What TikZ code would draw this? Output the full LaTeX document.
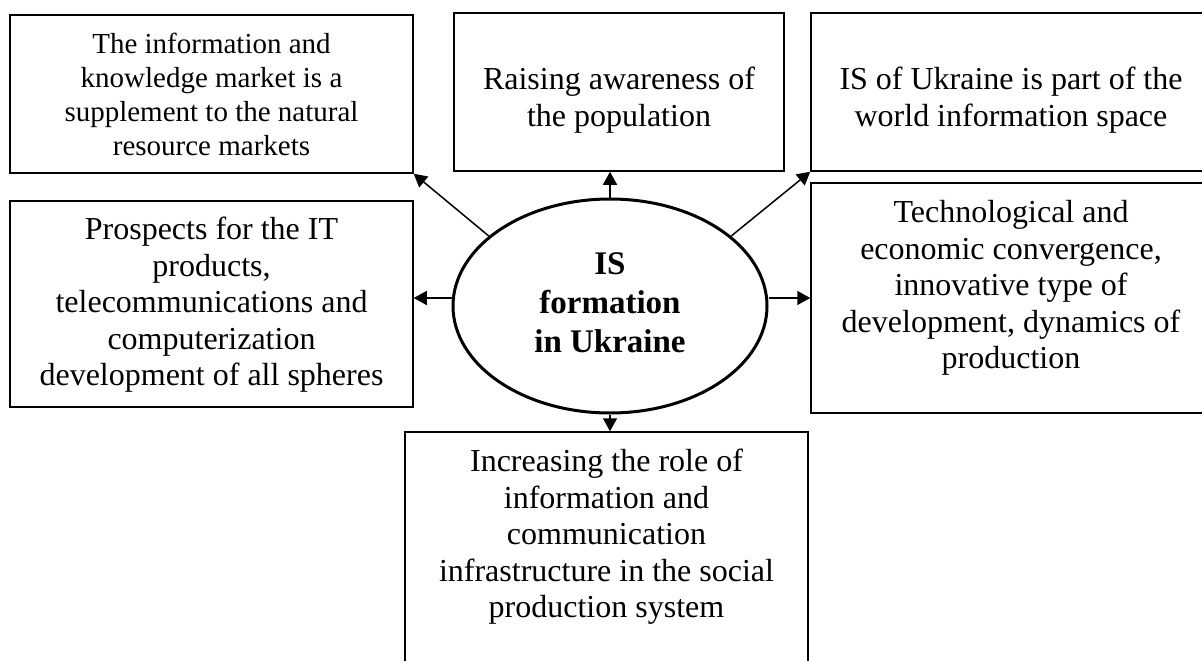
\documentclass[tikz,border=0pt]{standalone}
\usepackage{fontspec}
\setmainfont{Liberation Serif}
\usetikzlibrary{arrows.meta,shapes.geometric}

\begin{document}
\begin{tikzpicture}[x=1pt,y=-1pt,
  frame/.style={draw=black,line width=1.5pt,rectangle,inner sep=0pt},
  caption/.style={align=center,inner sep=0pt,font=\fontsize{32}{36.5}\selectfont},
  smallcaption/.style={align=center,inner sep=0pt,font=\fontsize{29}{34}\selectfont},
  hub/.style={draw=black,line width=3pt,ellipse,inner sep=0pt,
    minimum width=314pt,minimum height=214pt},
  hubtext/.style={align=center,inner sep=0pt,font=\fontsize{33}{39}\selectfont\bfseries},
  link/.style={line width=1.5pt,-{Triangle[length=13pt,width=14pt]}}]

\useasboundingbox (0,0) rectangle (1202,661);

% outer boxes
\node[frame,minimum width=403pt,minimum height=158pt] (b1) at (211.5,94) {};
\node[frame,minimum width=330pt,minimum height=158pt] (b2) at (619,92) {};
\node[frame,minimum width=399pt,minimum height=158pt] (b3) at (1010.5,92) {};
\node[frame,minimum width=403pt,minimum height=206pt] (b4) at (211.5,304) {};
\node[frame,minimum width=399pt,minimum height=230pt] (b5) at (1010.5,298) {};
\node[frame,minimum width=403pt,minimum height=268pt] (b6) at (606.5,566) {};

% box texts
\node[smallcaption] (t1) at (211.5,94) {The information and\\knowledge market is a\\supplement to the natural\\resource markets};
\node[caption] (t2) at (619,100) {Raising awareness of\\the population};
\node[caption] (t3) at (1011,100) {IS of Ukraine is part of the\\world information space};
\node[caption] (t4) at (211.5,305) {Prospects for the IT\\products,\\telecommunications and\\computerization\\development of all spheres};
\node[caption] (t5) at (1011,288) {Technological and\\economic convergence,\\innovative type of\\development, dynamics of\\production};
\node[caption] (t6) at (606.5,537) {Increasing the role of\\information and\\communication\\infrastructure in the social\\production system};

% central ellipse
\node[hub] (e) at (610,306) {};
\node[hubtext] (et) at (610,303) {IS\\formation\\in Ukraine};

% connectors
\coordinate (lw) at ([yshift=8pt]e.west);
\coordinate (le) at ([yshift=8pt]e.east);
\draw[link] (e.150) -- (b1.south east);
\draw[link] (e.north) -- (e.north |- b2.south);
\draw[link] (e.30) -- (b3.south west);
\draw[link] (lw) -- (lw -| b4.east);
\draw[link] (le) -- (le -| b5.west);
\draw[link] (e.south) -- (e.south |- b6.north);

\end{tikzpicture}
\end{document}
